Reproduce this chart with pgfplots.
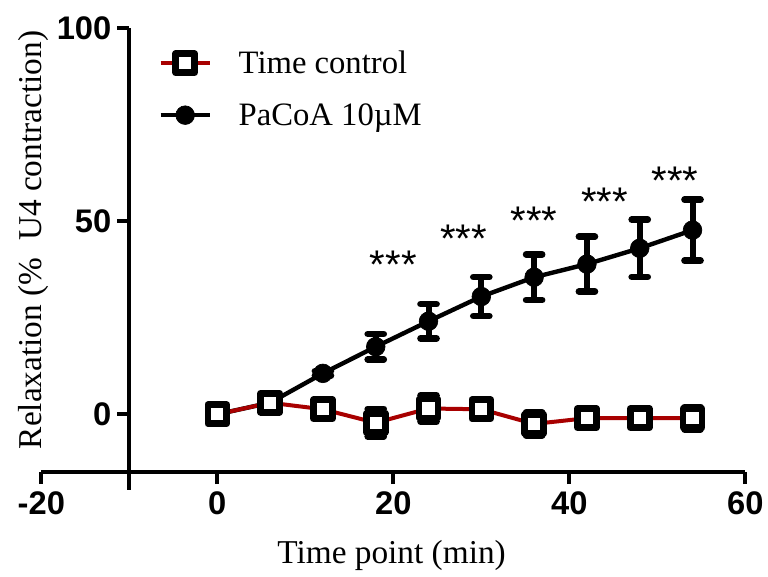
\documentclass[border=0pt]{standalone}
\usepackage{fontspec}
\setmainfont{Liberation Serif}
\setsansfont{Liberation Sans}
\usepackage{pgfplots}
\pgfplotsset{compat=1.18}
\definecolor{tcred}{RGB}{168,0,0}
\pgfplotstableread{
x y e
0 0 0.3
6 3.0 0.5
12 10.6 0.6
18 17.5 3.3
24 24.1 4.45
30 30.5 5.05
36 35.5 5.9
42 38.9 7.1
48 43.0 7.4
54 47.7 7.9
}\pacoa
\pgfplotstableread{
x y e
0 0 0.3
6 3.0 0.5
12 1.3 0.5
18 -2.2 3.6
24 1.5 3.4
30 1.3 0.5
36 -2.5 3.0
42 -1.0 0.5
48 -1.0 0.5
54 -1.0 2.9
}\tcontrol
\begin{document}
\begin{tikzpicture}
\useasboundingbox (-97pt,-77.85pt) rectangle (479pt,354.15pt);
\begin{axis}[
  at={(0,0)}, anchor=south west,
  scale only axis, width=462pt, height=333pt,
  xmin=-10, xmax=60, ymin=-15, ymax=100,
  axis lines=left,
  axis line style={line width=3.2pt, -},
  clip=false,
  xtick={0,20,40,60}, ytick={0,50,100},
  tick align=outside,
  major tick length=9pt,
  tick style={line width=3.2pt, black},
  /pgf/number format/assume math mode=true,
  tick label style={font=\fontsize{24.5}{28}\sffamily\bfseries},
  xticklabel style={yshift=-2pt},
  yticklabel style={xshift=-1pt},
  label style={font=\fontsize{25}{29}\selectfont},
  xlabel={Time point (min)},
  xlabel style={at={(axis description cs:0.4257,-0.2045)}, anchor=base},
  ylabel={Relaxation (\%\ \ U4 contraction)},
  ylabel style={at={(axis description cs:-0.156,0.523)}, anchor=center},
  legend style={draw=none, fill=none, at={(axis description cs:0.0466,0.9495)}, anchor=north west,
    font=\fontsize{24.5}{29}\selectfont, inner sep=0pt, row sep=20.8pt, column sep=20pt,
    nodes={inner sep=0pt}},
  legend cell align=left,
  reverse legend,
  legend image code/.code={\draw[mark repeat=2,mark phase=2,#1] plot coordinates {(0pt,0pt) (18.5pt,0pt) (37pt,0pt)};},
]
\addplot[black, line width=3.3pt, mark=*, mark size=7pt, mark options={line width=0.5pt},
  error bars/.cd, y dir=both, y explicit,
  error mark options={rotate=90, mark size=6pt, line width=5pt, line cap=round},
  error bar style={line width=4.5pt}]
  table[x=x, y=y, y error=e] {\pacoa};
\addlegendentry{PaCoA 10µM}
\addplot[tcred, line width=3pt, mark=square*, mark size=7.1pt,
  mark options={draw=black, fill=white, line width=5pt, line join=round},
  error bars/.cd, y dir=both, y explicit,
  error mark options={rotate=90, mark size=6pt, line width=5pt, line cap=round, black},
  error bar style={line width=4.5pt, black}]
  table[x=x, y=y, y error=e] {\tcontrol};
\addlegendentry{Time control}
% extended axis parts
\draw[line width=3.2pt] (axis cs:-20,-15) -- (axis cs:-10,-15);
\draw[line width=3.2pt] (axis cs:-20,-15) -- ++(0pt,-9pt);
\draw[line width=3.2pt] (axis cs:-10,-15) -- ++(0pt,-13.5pt);
\node[font=\fontsize{24.5}{28}\sffamily\bfseries, anchor=north, yshift=-11pt] at (axis cs:-20,-15) {-20};
% significance marks
\node[font=\fontsize{30}{34}\sffamily, anchor=north, inner sep=0pt] at (axis cs:20,42.4) {***};
\node[font=\fontsize{30}{34}\sffamily, anchor=north, inner sep=0pt] at (axis cs:28,49.0) {***};
\node[font=\fontsize{30}{34}\sffamily, anchor=north, inner sep=0pt] at (axis cs:36,53.8) {***};
\node[font=\fontsize{30}{34}\sffamily, anchor=north, inner sep=0pt] at (axis cs:44,58.8) {***};
\node[font=\fontsize{30}{34}\sffamily, anchor=north, inner sep=0pt] at (axis cs:52,64.0) {***};
\end{axis}
\end{tikzpicture}
\end{document}
